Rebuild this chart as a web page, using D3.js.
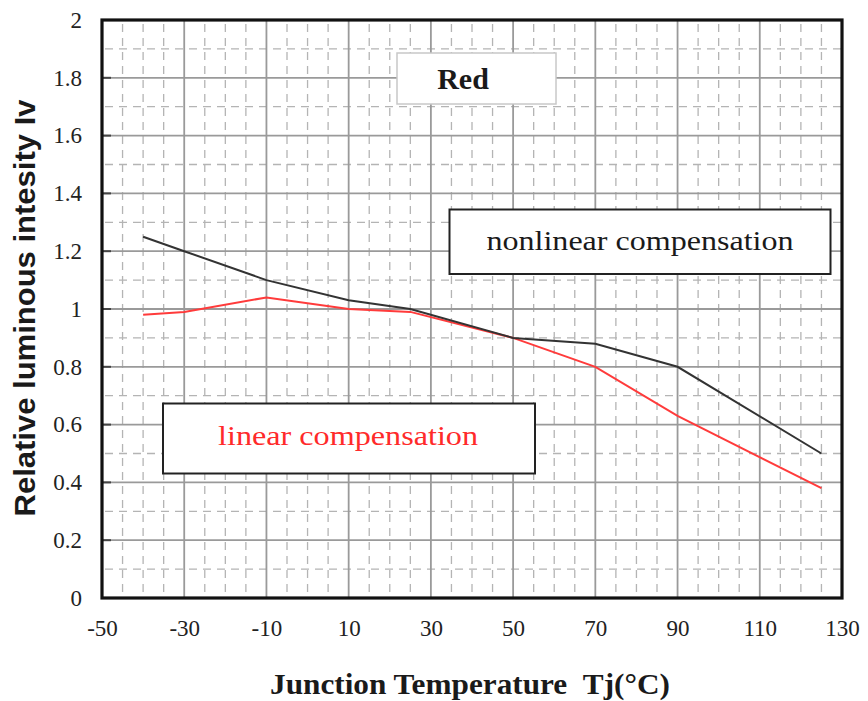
<!DOCTYPE html>
<html>
<head>
<meta charset="utf-8">
<script src="https://cdn.jsdelivr.net/npm/d3@7"></script>
<style>
  html, body { margin: 0; padding: 0; background: #fff; }
  svg { display: block; }
</style>
</head>
<body>
<svg id="chart" width="868" height="701"></svg>
<script>
// ---- data ----
const temps = [-40, -30, -10, 10, 25, 50, 70, 90, 125];
const nonlinear = [1.25, 1.20, 1.10, 1.03, 1.00, 0.90, 0.88, 0.80, 0.50];
const linear = [0.98, 0.99, 1.04, 1.00, 0.99, 0.90, 0.80, 0.63, 0.38];
const xTicks = [-50, -30, -10, 10, 30, 50, 70, 90, 110, 130];
const yTicks = [0, 0.2, 0.4, 0.6, 0.8, 1, 1.2, 1.4, 1.6, 1.8, 2];
const xTitle = "Junction Temperature\u00a0\u00a0Tj(\u00b0C)";
const yTitle = "Relative luminous intesity Iv";
const chartTitle = "Red";
const labelNonlinear = "nonlinear compensation";
const labelLinear = "linear compensation";

// ---- layout ----
const svg = d3.select("#chart");
const L = 102, R = 842, T = 20, B = 598;
const x = d3.scaleLinear().domain([-50, 130]).range([L, R]);
const y = d3.scaleLinear().domain([0, 2]).range([B, T]);

const g = svg.append("g");

// minor grid (dashed)
const minorX = d3.range(-50, 131, 5).filter(v => (v + 50) % 20 !== 0);
const minorY = d3.range(1, 20, 2).map(v => v / 10);
g.selectAll(".mx").data(minorX).enter().append("line")
  .attr("x1", d => x(d)).attr("x2", d => x(d)).attr("y1", T).attr("y2", B)
  .attr("stroke", "#b4b4b4").attr("stroke-width", 1.3).attr("stroke-dasharray", "8,6")
  .attr("stroke-dashoffset", -4);
g.selectAll(".my").data(minorY).enter().append("line")
  .attr("x1", L).attr("x2", R).attr("y1", d => y(d)).attr("y2", d => y(d))
  .attr("stroke", "#b4b4b4").attr("stroke-width", 1.3).attr("stroke-dasharray", "8,6")
  .attr("stroke-dashoffset", -3);

// major grid
g.selectAll(".gx").data(xTicks).enter().append("line")
  .attr("x1", d => x(d)).attr("x2", d => x(d)).attr("y1", T).attr("y2", B)
  .attr("stroke", "#9a9a9a").attr("stroke-width", 1.8);
g.selectAll(".gy").data(yTicks).enter().append("line")
  .attr("x1", L).attr("x2", R).attr("y1", d => y(d)).attr("y2", d => y(d))
  .attr("stroke", "#9a9a9a").attr("stroke-width", 1.8);

// inner ticks on left axis
g.selectAll(".tk").data(yTicks).enter().append("line")
  .attr("x1", L).attr("x2", L + 9).attr("y1", d => y(d)).attr("y2", d => y(d))
  .attr("stroke", "#444").attr("stroke-width", 2);

// lines
const line = d3.line().x(d => x(d[0])).y(d => y(d[1]));
g.append("path").datum(temps.map((t, i) => [t, linear[i]]))
  .attr("d", line).attr("fill", "none").attr("stroke", "#ff3b3b").attr("stroke-width", 2);
g.append("path").datum(temps.map((t, i) => [t, nonlinear[i]]))
  .attr("d", line).attr("fill", "none").attr("stroke", "#333").attr("stroke-width", 2);

// plot border
g.append("rect").attr("x", L).attr("y", T).attr("width", R - L).attr("height", B - T)
  .attr("fill", "none").attr("stroke", "#111").attr("stroke-width", 3.2);

// axes
const fontSerif = "'Liberation Serif', 'Times New Roman', serif";
const xa = svg.append("g").attr("transform", `translate(0,${B})`)
  .call(d3.axisBottom(x).tickValues(xTicks).tickSize(0).tickPadding(22).tickFormat(d3.format("d")));
xa.select(".domain").remove();
xa.selectAll("text").attr("font-family", fontSerif).attr("font-size", 23).attr("fill", "#222")
  .text(d => String(d).replace("\u2212", "-"));
const ya = svg.append("g").attr("transform", `translate(${L},0)`)
  .call(d3.axisLeft(y).tickValues(yTicks).tickSize(0).tickPadding(20).tickFormat(d => String(+d.toFixed(1))));
ya.select(".domain").remove();
ya.selectAll("text").attr("font-family", fontSerif).attr("font-size", 23).attr("fill", "#222");

// axis titles
svg.append("text").attr("x", 470).attr("y", 694).attr("text-anchor", "middle")
  .attr("font-family", fontSerif).attr("font-weight", "bold").attr("font-size", 30)
  .attr("fill", "#1a1a1a").attr("textLength", 400).attr("lengthAdjust", "spacingAndGlyphs")
  .text(xTitle);
svg.append("text").attr("transform", "translate(35,308) rotate(-90)").attr("text-anchor", "middle")
  .attr("font-family", "'Liberation Sans', Arial, sans-serif").attr("font-weight", "bold").attr("font-size", 29)
  .attr("fill", "#1a1a1a").attr("textLength", 417).attr("lengthAdjust", "spacingAndGlyphs")
  .text(yTitle);

// label boxes
function box(x0, y0, w, h, stroke, sw) {
  svg.append("rect").attr("x", x0).attr("y", y0).attr("width", w).attr("height", h)
    .attr("fill", "#fff").attr("stroke", stroke).attr("stroke-width", sw);
}
box(397, 53, 159, 51, "#c8c8c8", 1.5);
svg.append("text").attr("x", 463).attr("y", 89).attr("text-anchor", "middle")
  .attr("font-family", fontSerif).attr("font-weight", "bold").attr("font-size", 30).attr("fill", "#1a1a1a")
  .text(chartTitle);

box(449.5, 209.5, 381, 64.5, "#222", 2);
svg.append("text").attr("x", 640).attr("y", 250).attr("text-anchor", "middle")
  .attr("font-family", fontSerif).attr("font-size", 28).attr("fill", "#1a1a1a")
  .attr("textLength", 307).attr("lengthAdjust", "spacingAndGlyphs")
  .text(labelNonlinear);

box(163, 403.5, 372, 70, "#222", 2);
svg.append("text").attr("x", 348).attr("y", 445).attr("text-anchor", "middle")
  .attr("font-family", fontSerif).attr("font-size", 28).attr("fill", "#ff2a2a")
  .attr("textLength", 260).attr("lengthAdjust", "spacingAndGlyphs")
  .text(labelLinear);
</script>
</body>
</html>
